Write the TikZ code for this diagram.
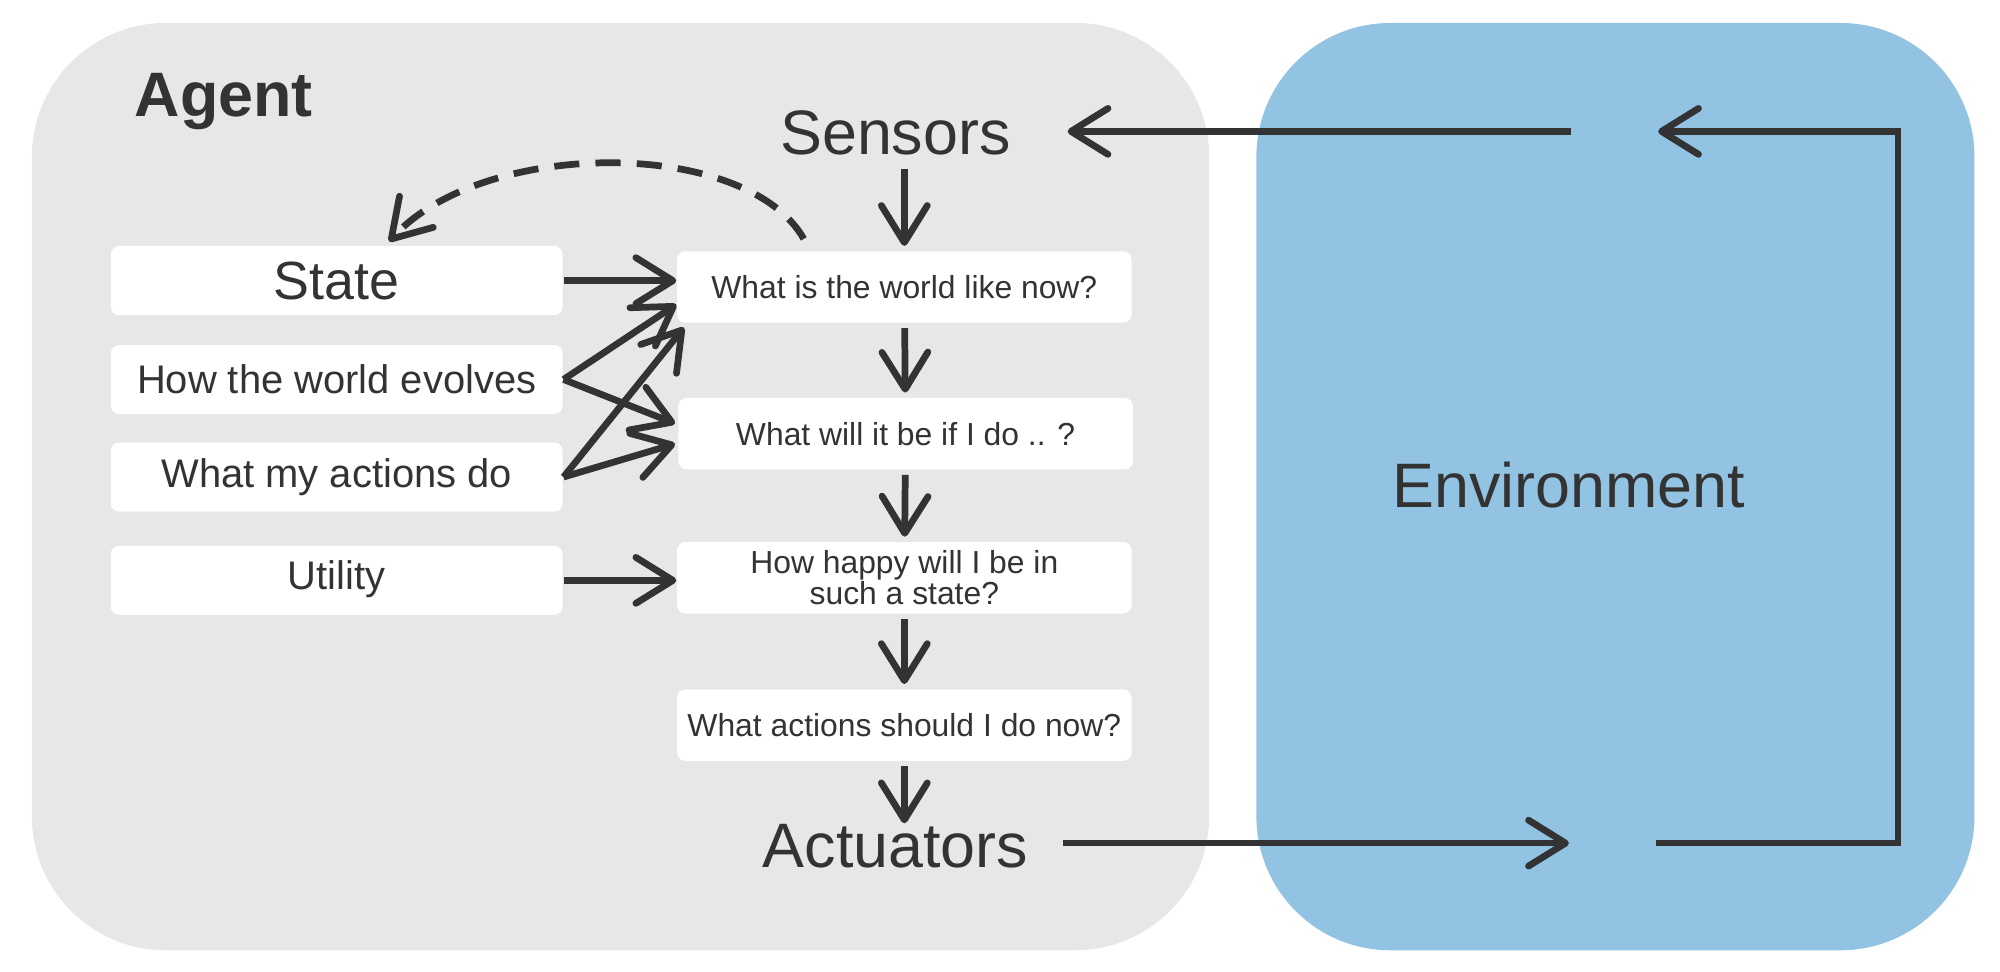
\documentclass[tikz,border=0pt]{standalone}
\usepackage{fontspec}
\setmainfont{Liberation Sans}
\usetikzlibrary{arrows.meta,calc}

\definecolor{agentgray}{HTML}{E6E7E9}
\definecolor{envblue}{HTML}{92C3E3}
\definecolor{ink}{HTML}{333333}

\newcommand{\bigsize}{\fontsize{14pt}{16pt}\selectfont}
\newcommand{\statesize}{\fontsize{12pt}{14pt}\selectfont}
\newcommand{\leftsize}{\fontsize{8.9pt}{10pt}\selectfont}
\newcommand{\qsize}{\fontsize{7.1pt}{6.9pt}\selectfont}

\tikzset{
  title/.style={inner sep=0pt,text=ink,font=\bigsize},
  box/.style={fill=white,rounded corners=1.8pt,minimum width=3.54cm,
    minimum height=0.54cm,inner sep=0pt,text=ink,font=\leftsize},
  qbox/.style={box,minimum width=3.56cm,minimum height=0.56cm,
    align=center,font=\qsize},
  arr/.style={draw=ink,line width=1.5pt,
    -{Straight Barb[length=2.9mm,width=3.6mm,round]}},
}

\begin{document}
\begin{tikzpicture}[x=0.01cm,y=-0.01cm]
  \useasboundingbox (0,0) rectangle (1568,761.3);

  % agent and environment
  \fill[agentgray,rounded corners=1.05cm] (25,18) rectangle (948,745);
  \fill[envblue,rounded corners=1.05cm] (985,18) rectangle (1548,745);

  \node[title,anchor=base west,font=\bigsize\bfseries] (agent) at (105,91) {Agent};
  \node[title,anchor=base] (sensors) at (702,121.5) {Sensors};
  \node[title,anchor=base] (actuators) at (702,680) {Actuators};
  \node[title,anchor=base] (environment) at (1230,398) {Environment};

  % left column
  \node[box,font=\statesize] (state) at (264,220) {State};
  \node[box] (evolves) at (264,297.5) {How the world evolves};
  \node[box] (myactions) at (264,374) {What my actions do};
  \node[box] (utility) at (264,455) {Utility\strut};

  % right column
  \node[qbox] (now) at (709,225) {What is the world like now?};
  \node[qbox] (ifido) at (710,340) {What will it be if I do .. ?};
  \node[qbox] (happy) at (709,453) {How happy will I be in\\such a state?};
  \node[qbox] (shoulddo) at (709,568.5) {What actions should I do now?};

  \coordinate (envin) at (1232,103);
  \coordinate (envback) at (1300,103);
  \coordinate (envout) at (1230,661);
  \coordinate (envturn) at (1298,661);

  % percepts and actions
  \draw[arr,shorten >=0.44cm] (envin) -- (envin -| sensors.east);
  \draw[arr] (envturn) -- ++(190,0) |- (envback);
  \draw[arr,shorten <=0.27cm] (actuators.east |- envout) -- (envout);

  % main chain
  \draw[arr,shorten <=0.1cm,shorten >=1pt] (now.north |- sensors.south) -- (now.north);
  \draw[arr,shorten <=1pt,shorten >=1pt] (now) -- (ifido);
  \draw[arr,shorten <=1pt,shorten >=1pt] (ifido) -- (happy);
  \draw[arr,shorten <=1pt,shorten >=1pt] (happy) -- (shoulddo);
  \draw[arr,shorten <=1pt] (shoulddo.south) -- (shoulddo.south |- actuators.north);

  % knowledge into the chain
  \draw[arr] (state.east) -- (state.east -| now.west);
  \draw[arr] (evolves.east) -- ($(now.south west)+(0,-15)$);
  \draw[arr] (evolves.east) -- ($(ifido.west)+(-2,-8)$);
  \draw[arr] (myactions.east) -- ($(now.south west)+(6,3)$);
  \draw[arr] (myactions.east) -- ($(ifido.west)+(-2,8)$);
  \draw[arr] (utility.east) -- (utility.east -| happy.west);

  % state update
  \draw[arr,dash pattern=on 5.6pt off 3.6pt]
    ($(now.north west)+(100,-9)$) .. controls (585,108) and (380,108)
    .. ($(state.north)+(41,-3)$);
\end{tikzpicture}
\end{document}
